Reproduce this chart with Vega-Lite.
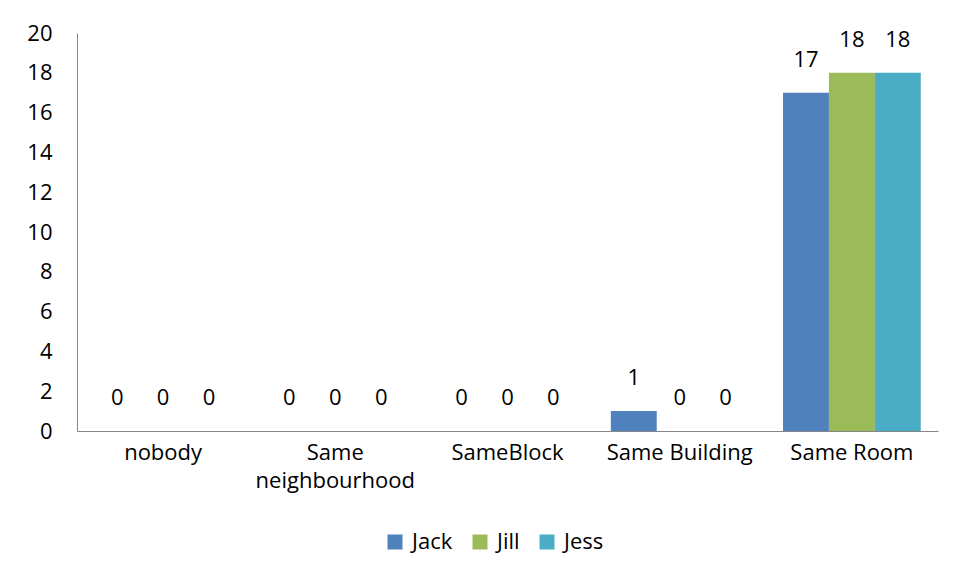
{
  "$schema": "https://vega.github.io/schema/vega-lite/v6.json",
  "width": 861,
  "height": 398,
  "autosize": {"type": "none"},
  "padding": {"left": 77, "top": 33, "right": 19, "bottom": 147},
  "background": "white",
  "config": {
    "view": {"stroke": null},
    "font": "Open Sans",
    "axis": {"grid": false, "domainColor": "#868686", "ticks": false, "labelFont": "Open Sans", "labelFontSize": 22, "labelColor": "#000000", "title": null},
    "legend": {"labelFont": "Open Sans", "labelFontSize": 22, "labelColor": "#000000"}
  },
  "data": {
    "values": [
      {"category": "nobody", "series": "Jack", "value": 0},
      {"category": "nobody", "series": "Jill", "value": 0},
      {"category": "nobody", "series": "Jess", "value": 0},
      {"category": "Same neighbourhood", "series": "Jack", "value": 0},
      {"category": "Same neighbourhood", "series": "Jill", "value": 0},
      {"category": "Same neighbourhood", "series": "Jess", "value": 0},
      {"category": "SameBlock", "series": "Jack", "value": 0},
      {"category": "SameBlock", "series": "Jill", "value": 0},
      {"category": "SameBlock", "series": "Jess", "value": 0},
      {"category": "Same Building", "series": "Jack", "value": 1},
      {"category": "Same Building", "series": "Jill", "value": 0},
      {"category": "Same Building", "series": "Jess", "value": 0},
      {"category": "Same Room", "series": "Jack", "value": 17},
      {"category": "Same Room", "series": "Jill", "value": 18},
      {"category": "Same Room", "series": "Jess", "value": 18}
    ]
  },
  "encoding": {
    "x": {
      "field": "category", "type": "nominal",
      "sort": ["nobody", "Same neighbourhood", "SameBlock", "Same Building", "Same Room"],
      "scale": {"paddingInner": 0.2, "paddingOuter": 0.1},
      "axis": {"labelAngle": 0, "labelPadding": 11, "labelBaseline": "top", "labelLineHeight": 28, "labelLimit": 300,
        "labelExpr": "datum.value == 'Same neighbourhood' ? ['Same', 'neighbourhood'] : datum.value"}
    },
    "xOffset": {"field": "series", "type": "nominal", "sort": ["Jack", "Jill", "Jess"]},
    "y": {
      "field": "value", "type": "quantitative",
      "scale": {"domain": [0, 20]},
      "axis": {"values": [0, 2, 4, 6, 8, 10, 12, 14, 16, 18, 20], "labelPadding": 25}
    }
  },
  "layer": [
    {
      "mark": {"type": "bar"},
      "encoding": {
        "color": {
          "field": "series", "type": "nominal",
          "scale": {"domain": ["Jack", "Jill", "Jess"], "range": ["#4F81BD", "#9BBB59", "#4BACC6"]},
          "legend": {"title": null, "orient": "none", "direction": "horizontal", "legendX": 307, "legendY": 498,
            "symbolType": "square", "symbolSize": 225, "symbolStrokeWidth": 0, "labelOffset": 6, "columnPadding": 16}
        }
      }
    },
    {
      "mark": {"type": "text", "baseline": "middle", "dy": -33, "fontSize": 22, "color": "#000000"},
      "encoding": {"text": {"field": "value", "type": "quantitative"}}
    }
  ]
}
